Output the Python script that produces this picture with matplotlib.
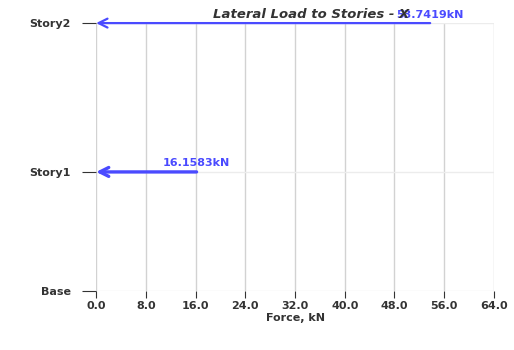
import numpy as np
import matplotlib.pyplot as plt

stories = ['Base', 'Story1', 'Story2']
elevations = [0.0, 4.0, 9.0]
forces = [16.1583, 53.7419]
force_labels = ['16.1583kN', '53.7419kN']
xticks = [0, 8, 16, 24, 32, 40, 48, 56, 64]

BLUE = '#4a4aff'
TXT = '#333333'

fig = plt.figure(figsize=(5.14, 3.5), dpi=100)
ax = fig.add_axes([0.187, 0.1686, 0.774, 0.7654])

widths = [2.4, 1.6]
for f, y, lab, w in zip(forces, elevations[1:], force_labels, widths):
    ax.annotate('', xy=(0, y), xytext=(f, y),
                arrowprops=dict(arrowstyle='->', color=BLUE, lw=w,
                                mutation_scale=16, shrinkA=0, shrinkB=0))
    ax.text(f, y + 0.12, lab, color=BLUE, fontsize=8,
            fontweight='bold', ha='center', va='bottom')

ax.set_xlim(0, 64)
ax.set_ylim(0, 9)
ax.set_xticks(xticks)
ax.set_xticklabels(['%.1f' % v for v in xticks])
ax.set_yticks(elevations)
ax.set_yticklabels(stories)
ax.tick_params(axis='both', labelsize=8, colors=TXT, width=0.8)
ax.tick_params(axis='y', length=10, pad=8)
ax.tick_params(axis='x', length=5, pad=2)
for lbl in ax.get_xticklabels() + ax.get_yticklabels():
    lbl.set_fontweight('bold')
ax.grid(True, axis='x', color='#d2d2d2', lw=1.0)
ax.grid(True, axis='y', color='#ececec', lw=1.0)
for s in ax.spines.values():
    s.set_visible(False)

ax.set_xlabel('Force, kN', fontsize=8, fontweight='bold', color=TXT, labelpad=2)
ax.set_title('Lateral Load to Stories - X', fontsize=9.5, fontweight='bold',
             style='italic', color=TXT, pad=4, x=0.54)

fig.savefig('out.png', dpi=100)
